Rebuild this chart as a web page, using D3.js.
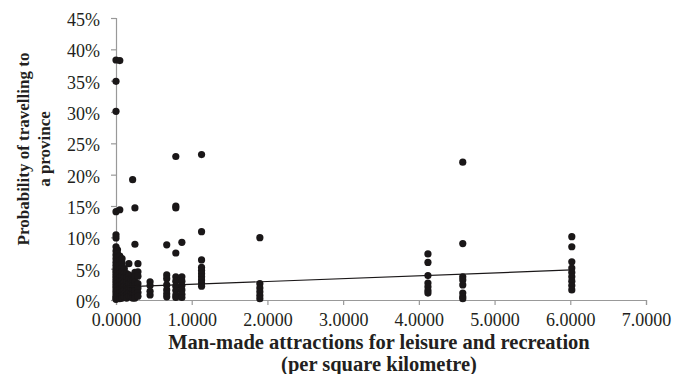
<!DOCTYPE html>
<html>
<head>
<meta charset="utf-8">
<script src="https://cdn.jsdelivr.net/npm/d3@7"></script>
<style>
  body { margin: 0; background: #fff; }
  text { font-family: "Liberation Serif", "Times New Roman", serif; fill: #231f20; }
</style>
</head>
<body>
<div id="chart"></div>
<script>
// attractions per km² (one entry per column of dots)
const columnX = [0.00, 0.02, 0.05, 0.08, 0.11, 0.14, 0.17, 0.20, 0.22, 0.25, 0.29,
                 0.45, 0.67, 0.79, 0.87, 1.13, 1.90, 4.12, 4.58, 6.02];

// probability of travelling (%) for each column above
const columnValues = [
    [38.3, 34.9, 30.1, 14.1, 10.4, 9.9, 8.5, 7.8, 7.2, 6.6, 6.0, 5.5, 5.0, 4.6, 4.2, 3.8, 3.4, 3.0, 2.6, 2.2, 1.8, 1.4, 1.0, 0.6, 0.3, 0.1],
    [8.0, 7.4, 6.8, 6.2, 5.7, 5.1, 4.5, 3.9, 3.3, 2.7, 2.1, 1.5, 0.9, 0.4],
    [38.2, 14.4, 7.0, 6.3, 5.6, 4.9, 4.2, 3.6, 3.0, 2.4, 1.8, 1.2, 0.6, 0.2],
    [6.6, 5.9, 5.2, 4.5, 3.8, 3.1, 2.5, 1.9, 1.3, 0.7, 0.3],
    [5.0, 4.3, 3.6, 2.9, 2.2, 1.6, 1.0, 0.5],
    [4.2, 3.5, 2.8, 2.1, 1.4, 0.8, 0.3],
    [5.8, 4.0, 3.3, 2.6, 1.9, 1.2, 0.6],
    [3.2, 2.5, 1.8, 1.1, 0.5],
    [19.2, 3.0, 2.3, 1.6, 0.9, 0.3],
    [14.7, 8.9, 4.4, 3.7, 2.9, 2.2, 1.5, 0.8, 0.3],
    [5.8, 4.5, 3.8, 2.6, 1.9, 1.2, 0.6],
    [2.9, 2.3, 1.4, 0.8],
    [8.8, 4.0, 3.4, 2.4, 1.6, 1.0, 0.5],
    [22.9, 15.0, 14.7, 7.5, 3.7, 3.0, 2.2, 1.5, 0.8, 0.4],
    [9.2, 3.7, 3.0, 2.3, 1.6, 0.9, 0.4],
    [23.2, 10.9, 6.4, 5.2, 4.7, 4.2, 3.7, 3.2, 2.7, 2.2],
    [9.95, 2.6, 1.9, 1.3, 0.7, 0.2],
    [7.35, 6.0, 3.9, 2.7, 2.1, 1.5, 1.1],
    [22.0, 9.0, 3.7, 3.2, 2.4, 1.1, 0.5, 0.2],
    [10.1, 8.5, 6.1, 5.1, 4.4, 3.7, 3.0, 2.3, 1.6]
];

// linear trend line (%), from the picture
const trendIntercept = 2.04;
const trendSlope = 0.458;

const xTicks = [0, 1, 2, 3, 4, 5, 6, 7];
const yTicks = [0, 5, 10, 15, 20, 25, 30, 35, 40, 45];

const width = 673, height = 374;
const margin = {top: 18, right: 27, bottom: 74, left: 116};

const points = [];
columnX.forEach((x, i) => columnValues[i].forEach(y => points.push({x, y})));

const svg = d3.select('#chart')
    .append('svg')
    .attr('width', width)
    .attr('height', height);

const x = d3.scaleLinear().domain([0, 7]).range([margin.left, width - margin.right]);
const y = d3.scaleLinear().domain([0, 45]).range([height - margin.bottom, margin.top]);

// axes
const xAxis = svg.append('g')
    .attr('transform', `translate(0,${y(0)})`)
    .call(d3.axisBottom(x).tickValues(xTicks).tickFormat(d3.format('.4f')).tickSize(5).tickPadding(8.5));

const yAxis = svg.append('g')
    .attr('transform', `translate(${x(0)},0)`)
    .call(d3.axisLeft(y).tickValues(yTicks).tickFormat(d => d + '%').tickSize(5).tickPadding(11));

[xAxis, yAxis].forEach(g => {
    g.selectAll('path, line').attr('stroke', '#999').attr('stroke-width', 1.2);
    g.selectAll('text').style('font-size', '18px').attr('fill', '#231f20');
});
yAxis.selectAll('text').attr('dy', '0.42em');

// dots
svg.append('g')
    .selectAll('circle')
    .data(points)
    .join('circle')
    .attr('cx', d => x(d.x))
    .attr('cy', d => y(d.y))
    .attr('r', 3.6)
    .attr('fill', '#1a1718');

// trend line over the data range
const xMax = d3.max(columnX);
svg.append('line')
    .attr('x1', x(0))
    .attr('y1', y(trendIntercept))
    .attr('x2', x(xMax))
    .attr('y2', y(trendIntercept + trendSlope * xMax))
    .attr('stroke', '#1a1718')
    .attr('stroke-width', 1.2);

// titles
const xMid = (x(0) + x(7)) / 2 - 2;
const xTitle = svg.append('text')
    .attr('transform', `translate(${xMid},349)`)
    .attr('text-anchor', 'middle')
    .style('font-size', '20.5px')
    .style('font-weight', 'bold');
xTitle.append('tspan').attr('x', 0).attr('dy', 0).text('Man-made attractions for leisure and recreation');
xTitle.append('tspan').attr('x', 0).attr('dy', 22).text('(per square kilometre)');

const yTitle = svg.append('text')
    .attr('transform', `translate(29,149) rotate(-90)`)
    .attr('text-anchor', 'middle')
    .style('font-size', '17px')
    .style('font-weight', 'bold');
yTitle.append('tspan').attr('x', 0).attr('dy', 0).text('Probability of travelling to');
yTitle.append('tspan').attr('x', 0).attr('dy', 21).text('a province');
</script>
</body>
</html>
